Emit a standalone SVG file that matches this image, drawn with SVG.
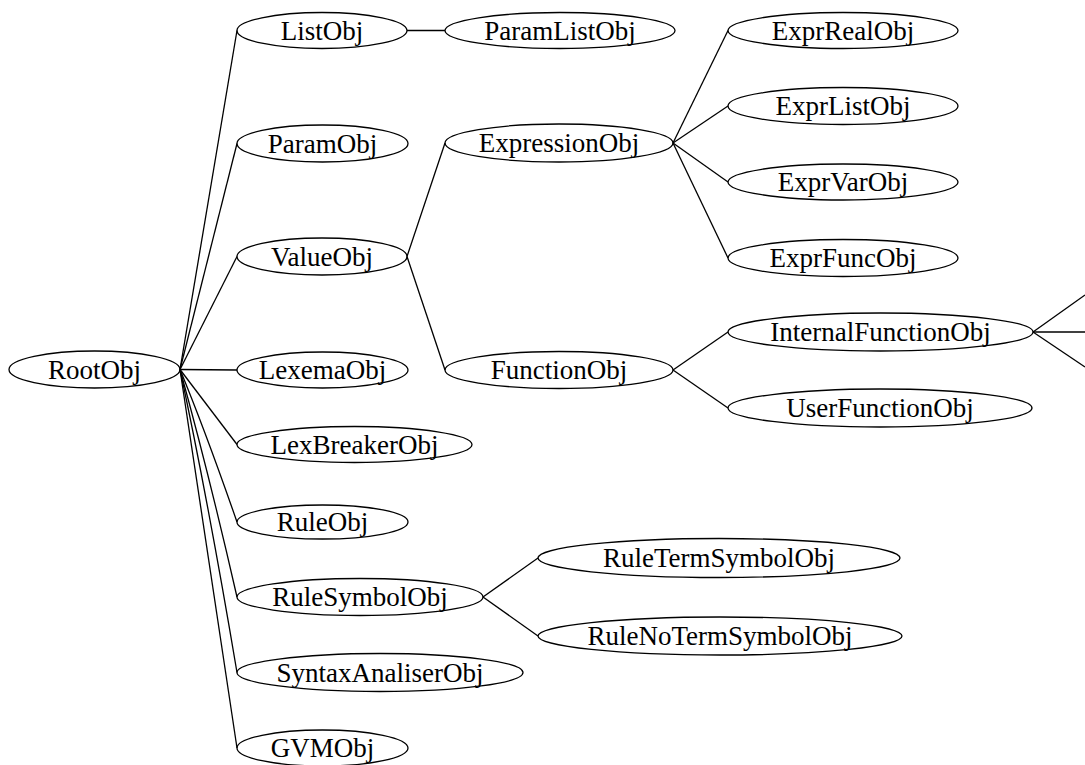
<svg xmlns="http://www.w3.org/2000/svg" width="1085" height="765" viewBox="0 0 1085 765">
<style>
.n ellipse{fill:none;stroke:#000;stroke-width:1.3}
.n text{font-family:"Liberation Serif","Times New Roman",serif;font-size:27px;text-anchor:middle;fill:#000}
#edges path{fill:none;stroke:#000;stroke-width:1.3}
</style>
<rect width="1085" height="765" fill="#fff"/>
<g id="edges">
<path d="M180,369.5L237,30.5"/>
<path d="M180,369.5L237,143.5"/>
<path d="M180,369.5L237,256.5"/>
<path d="M180,369.5L237,370"/>
<path d="M180,369.5L237,444.5"/>
<path d="M180,369.5Q205,430 237,522"/>
<path d="M180,369.5Q208,470 237,597"/>
<path d="M180,369.5Q208,500 237,672.5"/>
<path d="M180,369.5Q206,540 237,748"/>
<path d="M407,30.5L445,30.5"/>
<path d="M407,256.5L445,143"/>
<path d="M407,256.5L445,370"/>
<path d="M673,143L728,30.5"/>
<path d="M673,143L728,106"/>
<path d="M673,143L728,182"/>
<path d="M673,143L728,258"/>
<path d="M673,370L728,332"/>
<path d="M673,370L728,408"/>
<path d="M1033,332L1085,295"/>
<path d="M1033,332L1085,332"/>
<path d="M1033,332L1085,367"/>
<path d="M483,597L538,558"/>
<path d="M483,597L538,636"/>
</g>
<g id="RootObj" class="n"><ellipse cx="94.5" cy="369.5" rx="85.5" ry="18.5"/><text x="94.5" y="378.5">RootObj</text></g>
<g id="ListObj" class="n"><ellipse cx="322" cy="30.5" rx="85" ry="18"/><text x="322" y="39.5">ListObj</text></g>
<g id="ParamListObj" class="n"><ellipse cx="560" cy="30.5" rx="115" ry="18"/><text x="560" y="39.5">ParamListObj</text></g>
<g id="ParamObj" class="n"><ellipse cx="322.5" cy="143.5" rx="85.5" ry="18.5"/><text x="322.5" y="152.5">ParamObj</text></g>
<g id="ValueObj" class="n"><ellipse cx="322" cy="256.5" rx="85" ry="18.5"/><text x="322" y="265.5">ValueObj</text></g>
<g id="LexemaObj" class="n"><ellipse cx="322.5" cy="370" rx="85.5" ry="18"/><text x="322.5" y="379">LexemaObj</text></g>
<g id="LexBreakerObj" class="n"><ellipse cx="354.5" cy="444.5" rx="117.5" ry="18"/><text x="354.5" y="453.5">LexBreakerObj</text></g>
<g id="RuleObj" class="n"><ellipse cx="322.5" cy="522" rx="85.5" ry="17"/><text x="322.5" y="531">RuleObj</text></g>
<g id="RuleSymbolObj" class="n"><ellipse cx="360" cy="597" rx="123" ry="18.5"/><text x="360" y="606">RuleSymbolObj</text></g>
<g id="SyntaxAnaliserObj" class="n"><ellipse cx="380" cy="672.5" rx="143" ry="19"/><text x="380" y="681.5">SyntaxAnaliserObj</text></g>
<g id="GVMObj" class="n"><ellipse cx="322.5" cy="748" rx="85.5" ry="18"/><text x="322.5" y="757">GVMObj</text></g>
<g id="ExpressionObj" class="n"><ellipse cx="559" cy="143" rx="114" ry="19"/><text x="559" y="152">ExpressionObj</text></g>
<g id="FunctionObj" class="n"><ellipse cx="559" cy="370" rx="114" ry="18.5"/><text x="559" y="379">FunctionObj</text></g>
<g id="ExprRealObj" class="n"><ellipse cx="843" cy="30.5" rx="115" ry="18"/><text x="843" y="39.5">ExprRealObj</text></g>
<g id="ExprListObj" class="n"><ellipse cx="843" cy="106" rx="115" ry="18.5"/><text x="843" y="115">ExprListObj</text></g>
<g id="ExprVarObj" class="n"><ellipse cx="843" cy="182" rx="115" ry="18"/><text x="843" y="191">ExprVarObj</text></g>
<g id="ExprFuncObj" class="n"><ellipse cx="843" cy="258" rx="115" ry="18.5"/><text x="843" y="267">ExprFuncObj</text></g>
<g id="InternalFunctionObj" class="n"><ellipse cx="880.5" cy="332" rx="152.5" ry="19"/><text x="880.5" y="341">InternalFunctionObj</text></g>
<g id="UserFunctionObj" class="n"><ellipse cx="880" cy="408" rx="152" ry="19"/><text x="880" y="417">UserFunctionObj</text></g>
<g id="RuleTermSymbolObj" class="n"><ellipse cx="719" cy="558" rx="181" ry="19.5"/><text x="719" y="567">RuleTermSymbolObj</text></g>
<g id="RuleNoTermSymbolObj" class="n"><ellipse cx="720" cy="636" rx="182" ry="19"/><text x="720" y="645">RuleNoTermSymbolObj</text></g>
</svg>
